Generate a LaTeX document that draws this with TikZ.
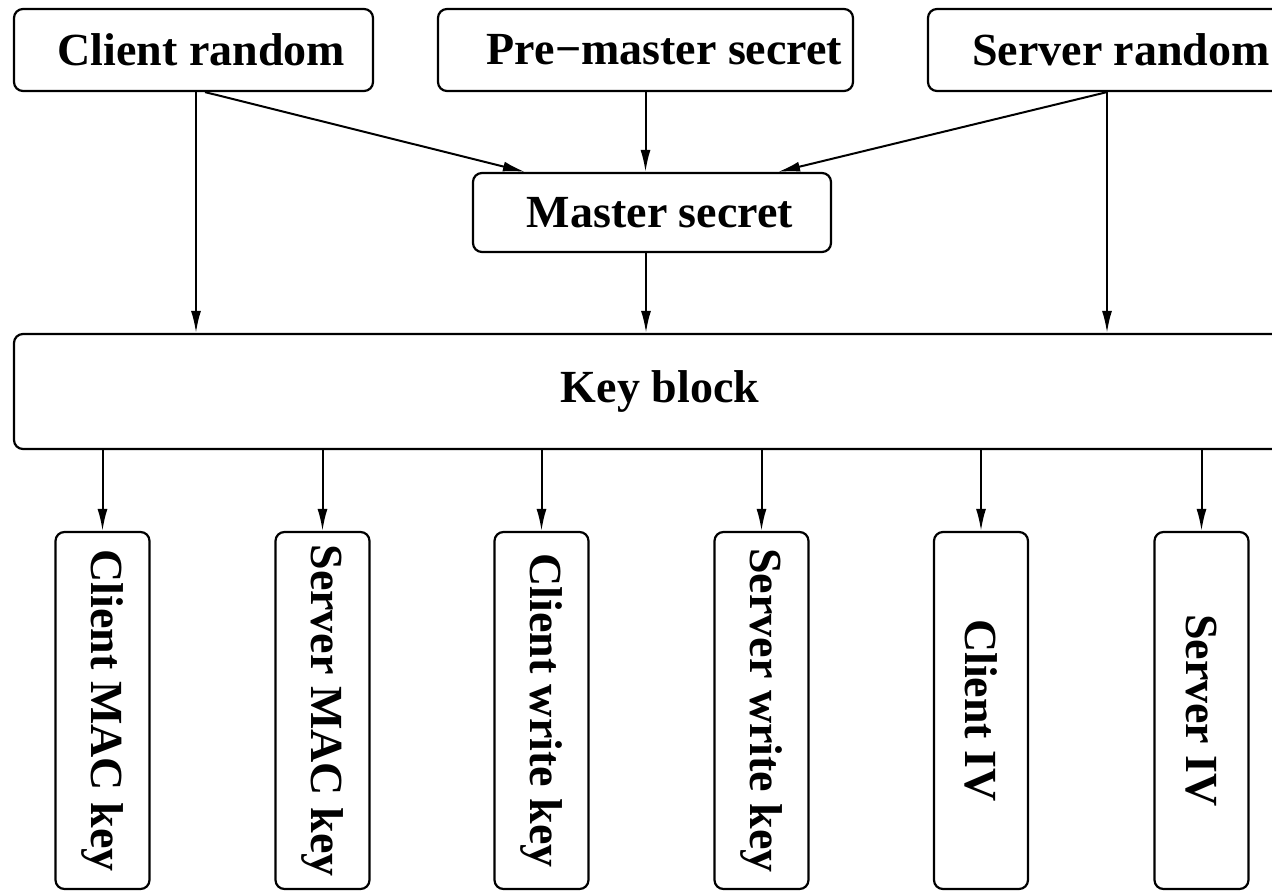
\documentclass[tikz,border=0pt]{standalone}
\usepackage{fontspec}
\setmainfont{Liberation Serif}
\usetikzlibrary{arrows.meta}
\begin{document}
\begin{tikzpicture}[x=1pt,y=-1pt,
  box/.style={draw,line width=2.2pt,rounded corners=9pt,inner sep=0pt,
    font=\fontsize{46}{50}\selectfont\bfseries},
  vbox/.style={box,minimum width=94pt,minimum height=357pt},
  arr/.style={line width=2pt,-{Latex[length=22pt,width=10pt]}}]
\useasboundingbox (0,0) rectangle (1272,891);
% top row
\node[box,minimum width=359pt,minimum height=82pt] (cr) at (193.5,50) {\hspace*{16pt}Client random};
\node[box,minimum width=415pt,minimum height=82pt] (pm) at (645.5,50) {\hspace*{38pt}Pre−master secret};
\node[box,minimum width=386pt,minimum height=82pt] (sr) at (1121,50) {Server random};
\node[box,minimum width=358pt,minimum height=79pt] (ms) at (652,212.5) {\hspace*{16pt}Master secret};
\node[box,minimum width=1292pt,minimum height=115pt] (kb) at (660,391.5) {Key block};
% bottom row
\node[vbox] (b1) at (102.5,710.5) {\rotatebox{-90}{Client MAC key}};
\node[vbox] (b2) at (322.5,710.5) {\rotatebox{-90}{Server MAC key}};
\node[vbox] (b3) at (541.5,710.5) {\rotatebox{-90}{Client write key}};
\node[vbox] (b4) at (761.5,710.5) {\rotatebox{-90}{Server write key}};
\node[vbox] (b5) at (981,710.5) {\rotatebox{-90}{Client IV}};
\node[vbox] (b6) at (1201.5,710.5) {\rotatebox{-90}{Server IV}};
% connectors
\draw[arr] ([xshift=11.5pt]cr.south) -- ([xshift=-127pt]ms.north);
\draw[arr] ([xshift=2.5pt]cr.south) -- ([xshift=2.5pt]cr.south |- kb.north);
\draw[arr] (pm.south) -- (pm.south |- ms.north);
\draw[arr] ([xshift=-14pt]sr.south) -- ([xshift=126pt]ms.north);
\draw[arr] ([xshift=-14pt]sr.south) -- ([xshift=-14pt]sr.south |- kb.north);
\draw[arr] ([xshift=-6pt]ms.south) -- ([xshift=-6pt]ms.south |- kb.north);
\foreach \b in {b1,b2,b3,b4,b5,b6}
  \draw[arr] (\b.north |- kb.south) -- (\b.north);
\end{tikzpicture}
\end{document}
